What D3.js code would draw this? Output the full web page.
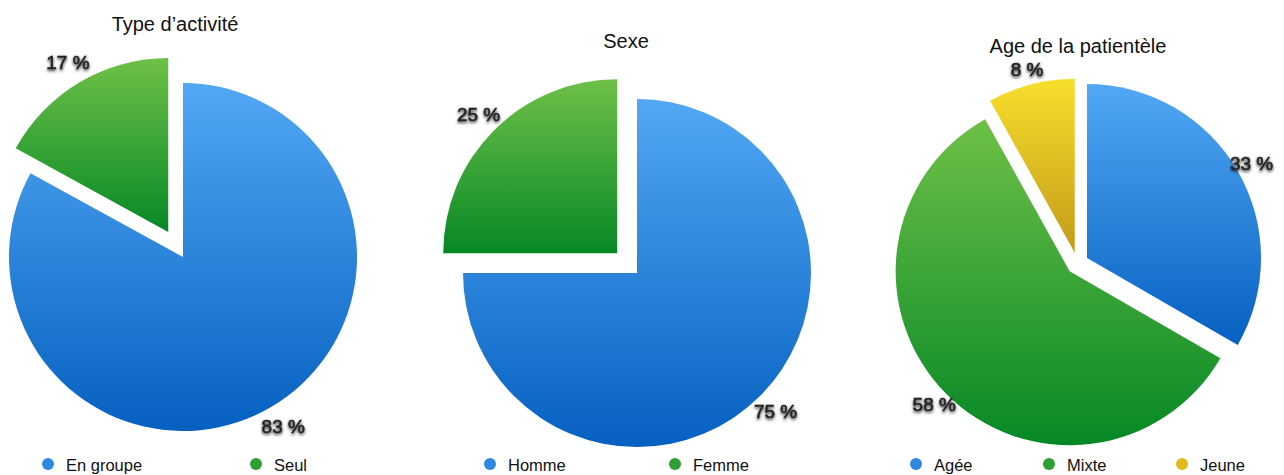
<!DOCTYPE html>
<html>
<head>
<meta charset="utf-8">
<script src="https://cdn.jsdelivr.net/npm/d3@7"></script>
<style>
  html, body { margin: 0; padding: 0; background: #fff; }
  svg { display: block; }
  text { font-family: "Liberation Sans", Arial, Helvetica, sans-serif; }
</style>
</head>
<body>
<script>
// ---- Data ----
const titles = ["Type d’activité", "Sexe", "Age de la patientèle"];
const activityCategories = ["En groupe", "Seul"];
const activityValues = [83, 17];
const sexCategories = ["Homme", "Femme"];
const sexValues = [75, 25];
const ageCategories = ["Agée", "Mixte", "Jeune"];
const ageValues = [33, 58, 8];

// ---- Layout / style ----
const W = 1284, H = 475;
const R = 174;
const colorKeys = ["blue", "green", "yellow"];
const grad = {
  blue:   ["#52a8f5", "#0660c0"],
  green:  ["#6ec047", "#068826"],
  yellow: ["#f7df2c", "#c39b19"]
};
const dotColor = { blue: "#2f88e3", green: "#2f9e33", yellow: "#e1b91f" };

const charts = [
  { title: titles[0], cats: activityCategories, vals: activityValues, cx: 183, cy: 257,
    explode: [0, 29], labelR: 197, titleX: 175, titleY: 31, legendX: [48, 256] },
  { title: titles[1], cats: sexCategories, vals: sexValues, cx: 637, cy: 273,
    explode: [0, 28], labelR: 196, titleX: 626, titleY: 48, legendX: [490, 675] },
  { title: titles[2], cats: ageCategories, vals: ageValues, cx: 1077.5, cy: 263.5,
    explode: [11, 11, 11], labelR: 190, titleX: 1078, titleY: 53, legendX: [916, 1049, 1182] }
];
const legendY = 464;

const svg = d3.select("body").append("svg").attr("width", W).attr("height", H);
const defs = svg.append("defs");
colorKeys.forEach(k => {
  const g = defs.append("linearGradient").attr("id", "g-" + k)
    .attr("x1", 0).attr("y1", 0).attr("x2", 0).attr("y2", 1);
  g.append("stop").attr("offset", "0%").attr("stop-color", grad[k][0]);
  g.append("stop").attr("offset", "100%").attr("stop-color", grad[k][1]);
});
const f = defs.append("filter").attr("id", "tshadow")
  .attr("x", "-30%").attr("y", "-50%").attr("width", "160%").attr("height", "200%");
f.append("feDropShadow").attr("dx", 0).attr("dy", 1.5).attr("stdDeviation", 1.5)
  .attr("flood-color", "#000").attr("flood-opacity", 0.9);

const pie = d3.pie().sort(null).value(d => d);
const arc = d3.arc().innerRadius(0).outerRadius(R);

charts.forEach(c => {
  const g = svg.append("g");
  const arcs = pie(c.vals);
  arcs.forEach((a, i) => {
    const mid = (a.startAngle + a.endAngle) / 2;
    const dx = Math.sin(mid), dy = -Math.cos(mid);
    const ox = c.cx + dx * c.explode[i], oy = c.cy + dy * c.explode[i];
    g.append("path")
      .attr("transform", `translate(${ox},${oy})`)
      .attr("d", arc(a))
      .attr("fill", `url(#g-${colorKeys[i]})`);
    a._lx = ox + dx * c.labelR; a._ly = oy + dy * c.labelR;
  });
  arcs.forEach((a, i) => {
    g.append("text")
      .attr("x", a._lx).attr("y", a._ly).attr("dy", "0.36em")
      .attr("text-anchor", "middle")
      .attr("font-size", 19).attr("fill", "#222")
      .attr("stroke", "#222").attr("stroke-width", 0.5)
      .attr("filter", "url(#tshadow)")
      .text(`${c.vals[i]} %`);
  });
  g.append("text")
    .attr("x", c.titleX).attr("y", c.titleY)
    .attr("text-anchor", "middle")
    .attr("font-size", 20).attr("fill", "#111")
    .text(c.title);
  c.cats.forEach((cat, i) => {
    g.append("circle").attr("cx", c.legendX[i]).attr("cy", legendY).attr("r", 6)
      .attr("fill", dotColor[colorKeys[i]]);
    g.append("text").attr("x", c.legendX[i] + 18).attr("y", legendY + 6.5)
      .attr("font-size", 16.5).attr("fill", "#111")
      .text(cat);
  });
});
</script>
</body>
</html>
